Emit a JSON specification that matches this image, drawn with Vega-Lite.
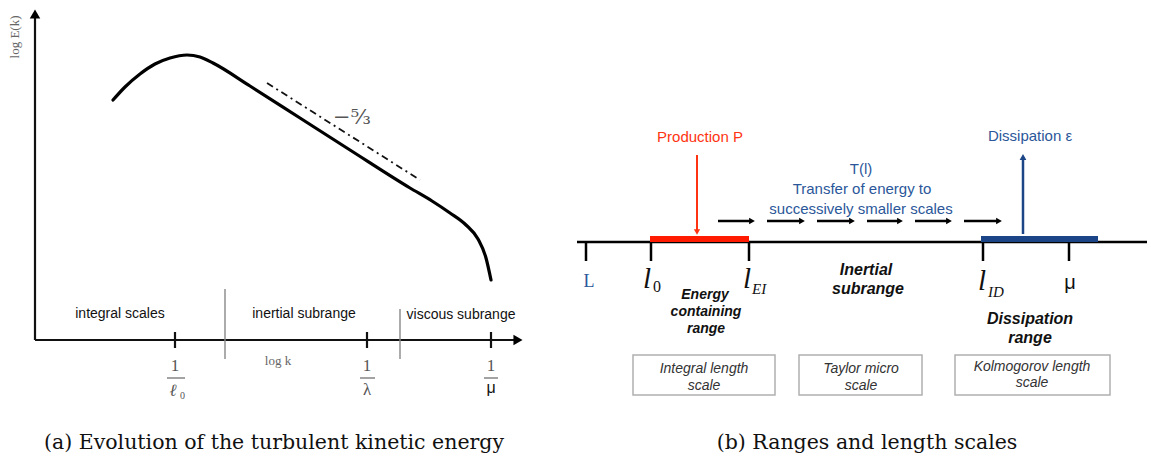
{
  "$schema": "https://vega.github.io/schema/vega-lite/v6.json",
  "width": 1151,
  "height": 461,
  "autosize": {"type": "fit", "contains": "padding"},
  "padding": 0,
  "background": "white",
  "config": {"view": {"stroke": null}},
  "datasets": {
    "seg": [
      {"g": "axisA", "x": 35, "y": 340, "x2": 35, "y2": 16},
      {"g": "axisA", "x": 35, "y": 340, "x2": 516, "y2": 340},
      {"g": "tickA", "x": 175, "y": 332, "x2": 175, "y2": 348},
      {"g": "tickA", "x": 367, "y": 332, "x2": 367, "y2": 348},
      {"g": "tickA", "x": 491, "y": 332, "x2": 491, "y2": 348},
      {"g": "sepA", "x": 225, "y": 289, "x2": 225, "y2": 359},
      {"g": "sepA", "x": 400, "y": 309, "x2": 400, "y2": 359},
      {"g": "slope", "x": 267, "y": 83, "x2": 420, "y2": 180},
      {"g": "frac", "x": 167, "y": 378, "x2": 185, "y2": 378},
      {"g": "frac", "x": 360, "y": 378, "x2": 375, "y2": 378},
      {"g": "frac", "x": 484, "y": 378, "x2": 498, "y2": 378},
      {"g": "lineB", "x": 577, "y": 242, "x2": 1147, "y2": 242},
      {"g": "tickB", "x": 586, "y": 242, "x2": 586, "y2": 261},
      {"g": "tickB", "x": 651, "y": 242, "x2": 651, "y2": 261},
      {"g": "tickB", "x": 749, "y": 242, "x2": 749, "y2": 261},
      {"g": "tickB", "x": 983, "y": 242, "x2": 983, "y2": 261},
      {"g": "tickB", "x": 1069, "y": 242, "x2": 1069, "y2": 261},
      {"g": "red", "x": 650, "y": 239, "x2": 749, "y2": 239},
      {"g": "redShaft", "x": 697, "y": 155, "x2": 697, "y2": 230},
      {"g": "blue", "x": 981, "y": 239, "x2": 1098, "y2": 239},
      {"g": "blueShaft", "x": 1023, "y": 234, "x2": 1023, "y2": 160},
      {"g": "flow", "x": 718, "y": 221, "x2": 750, "y2": 221},
      {"g": "flow", "x": 767, "y": 221, "x2": 800, "y2": 221},
      {"g": "flow", "x": 817, "y": 221, "x2": 850, "y2": 221},
      {"g": "flow", "x": 867, "y": 221, "x2": 898, "y2": 221},
      {"g": "flow", "x": 915, "y": 221, "x2": 947, "y2": 221},
      {"g": "flow", "x": 964, "y": 221, "x2": 997, "y2": 221}
    ],
    "curve": [
      {"x": 113, "y": 100}, {"x": 125, "y": 87}, {"x": 140, "y": 74},
      {"x": 155, "y": 64}, {"x": 170, "y": 58}, {"x": 187, "y": 55},
      {"x": 200, "y": 57}, {"x": 213, "y": 63}, {"x": 250, "y": 86},
      {"x": 300, "y": 118}, {"x": 350, "y": 150}, {"x": 410, "y": 188},
      {"x": 432, "y": 201}, {"x": 450, "y": 213}, {"x": 466, "y": 225},
      {"x": 478, "y": 239}, {"x": 486, "y": 258}, {"x": 491, "y": 280}
    ],
    "heads": [
      {"g": "up", "x": 35, "y": 14},
      {"g": "right", "x": 518, "y": 340},
      {"g": "flowHead", "x": 752, "y": 221},
      {"g": "flowHead", "x": 802, "y": 221},
      {"g": "flowHead", "x": 852, "y": 221},
      {"g": "flowHead", "x": 900, "y": 221},
      {"g": "flowHead", "x": 949, "y": 221},
      {"g": "flowHead", "x": 999, "y": 221},
      {"g": "redHead", "x": 697, "y": 232},
      {"g": "blueHead", "x": 1023, "y": 157}
    ],
    "boxes": [
      {"x": 633, "y": 355, "x2": 775, "y2": 395},
      {"x": 799, "y": 355, "x2": 922, "y2": 395},
      {"x": 955, "y": 355, "x2": 1110, "y2": 395}
    ],
    "labels": [
      {"g": "sansA", "x": 120, "y": 314, "t": "integral scales"},
      {"g": "sansA", "x": 304, "y": 314, "t": "inertial subrange"},
      {"g": "sansA", "x": 461, "y": 315, "t": "viscous subrange"},
      {"g": "serifA", "x": 175, "y": 366, "t": "1"},
      {"g": "serifA", "x": 367, "y": 366, "t": "1"},
      {"g": "serifA", "x": 491, "y": 366, "t": "1"},
      {"g": "serifA", "x": 367, "y": 390, "t": "λ"},
      {"g": "ellA", "x": 173, "y": 391, "t": "ℓ"},
      {"g": "subA", "x": 180, "y": 396, "t": "0"},
      {"g": "logk", "x": 278, "y": 361, "t": "log k"},
      {"g": "muA", "x": 491, "y": 388, "t": "μ"},
      {"g": "logE", "x": 15, "y": 37, "t": "log E(k)"},
      {"g": "slopeT", "x": 352, "y": 118, "t": "−⁵⁄₃"},
      {"g": "cap", "x": 274, "y": 443, "t": "(a)  Evolution of the turbulent kinetic energy"},
      {"g": "cap", "x": 867, "y": 443, "t": "(b)  Ranges and length scales"},
      {"g": "prod", "x": 700, "y": 137, "t": "Production P"},
      {"g": "blueT", "x": 1030, "y": 136, "t": "Dissipation ε"},
      {"g": "blueT", "x": 861, "y": 169, "t": "T(l)"},
      {"g": "blueT", "x": 862, "y": 189, "t": "Transfer of energy to"},
      {"g": "blueT", "x": 861, "y": 209, "t": "successively smaller scales"},
      {"g": "Lt", "x": 589, "y": 282, "t": "L"},
      {"g": "ell", "x": 647, "y": 279, "t": "l"},
      {"g": "ell", "x": 747, "y": 279, "t": "l"},
      {"g": "ell", "x": 982, "y": 281, "t": "l"},
      {"g": "sub0", "x": 653, "y": 287, "t": "0"},
      {"g": "subI", "x": 752, "y": 289, "t": "EI"},
      {"g": "subI", "x": 988, "y": 292, "t": "ID"},
      {"g": "muB", "x": 1070, "y": 283, "t": "μ"},
      {"g": "bi14", "x": 705, "y": 295, "t": "Energy"},
      {"g": "bi14", "x": 706, "y": 312, "t": "containing"},
      {"g": "bi14", "x": 706, "y": 329, "t": "range"},
      {"g": "bi16", "x": 866, "y": 270, "t": "Inertial"},
      {"g": "bi16", "x": 868, "y": 289, "t": "subrange"},
      {"g": "bi16", "x": 1030, "y": 319, "t": "Dissipation"},
      {"g": "bi16", "x": 1030, "y": 338, "t": "range"},
      {"g": "boxT", "x": 704, "y": 369, "t": "Integral length"},
      {"g": "boxT", "x": 704, "y": 386, "t": "scale"},
      {"g": "boxT", "x": 861, "y": 369, "t": "Taylor micro"},
      {"g": "boxT", "x": 861, "y": 386, "t": "scale"},
      {"g": "boxT", "x": 1032, "y": 367, "t": "Kolmogorov length"},
      {"g": "boxT", "x": 1032, "y": 383, "t": "scale"}
    ]
  },
  "encoding": {
    "x": {"field": "x", "type": "quantitative", "scale": {"domain": [0, 1151], "nice": false, "zero": false}, "axis": null},
    "y": {"field": "y", "type": "quantitative", "scale": {"domain": [0, 461], "nice": false, "zero": false, "reverse": true}, "axis": null}
  },
  "layer": [
    {"data": {"name": "seg"}, "transform": [{"filter": "datum.g === 'axisA' || datum.g === 'tickA'"}],
     "mark": {"type": "rule", "color": "#111", "strokeWidth": 2.2},
     "encoding": {"x2": {"field": "x2"}, "y2": {"field": "y2"}}},
    {"data": {"name": "seg"}, "transform": [{"filter": "datum.g === 'sepA'"}],
     "mark": {"type": "rule", "color": "#888", "strokeWidth": 1.4},
     "encoding": {"x2": {"field": "x2"}, "y2": {"field": "y2"}}},
    {"data": {"name": "seg"}, "transform": [{"filter": "datum.g === 'slope'"}],
     "mark": {"type": "rule", "color": "#111", "strokeWidth": 1.8, "strokeDash": [7, 4, 2, 4]},
     "encoding": {"x2": {"field": "x2"}, "y2": {"field": "y2"}}},
    {"data": {"name": "seg"}, "transform": [{"filter": "datum.g === 'frac'"}],
     "mark": {"type": "rule", "color": "#666", "strokeWidth": 1.2},
     "encoding": {"x2": {"field": "x2"}, "y2": {"field": "y2"}}},
    {"data": {"name": "curve"},
     "mark": {"type": "line", "color": "#000", "strokeWidth": 3.2, "interpolate": "monotone", "strokeCap": "round"},
     "encoding": {"order": {"field": "x", "type": "quantitative"}}},
    {"data": {"name": "seg"}, "transform": [{"filter": "datum.g === 'lineB' || datum.g === 'tickB' || datum.g === 'flow'"}],
     "mark": {"type": "rule", "color": "#000", "strokeWidth": 2.5},
     "encoding": {"x2": {"field": "x2"}, "y2": {"field": "y2"}}},
    {"data": {"name": "seg"}, "transform": [{"filter": "datum.g === 'red'"}],
     "mark": {"type": "rule", "color": "#ff1a00", "strokeWidth": 6},
     "encoding": {"x2": {"field": "x2"}, "y2": {"field": "y2"}}},
    {"data": {"name": "seg"}, "transform": [{"filter": "datum.g === 'redShaft'"}],
     "mark": {"type": "rule", "color": "#ff3311", "strokeWidth": 2},
     "encoding": {"x2": {"field": "x2"}, "y2": {"field": "y2"}}},
    {"data": {"name": "seg"}, "transform": [{"filter": "datum.g === 'blue'"}],
     "mark": {"type": "rule", "color": "#1c4587", "strokeWidth": 6},
     "encoding": {"x2": {"field": "x2"}, "y2": {"field": "y2"}}},
    {"data": {"name": "seg"}, "transform": [{"filter": "datum.g === 'blueShaft'"}],
     "mark": {"type": "rule", "color": "#1c4587", "strokeWidth": 2.5},
     "encoding": {"x2": {"field": "x2"}, "y2": {"field": "y2"}}},
    {"data": {"name": "heads"}, "transform": [{"filter": "datum.g === 'up'"}],
     "mark": {"type": "point", "shape": "triangle-up", "filled": true, "color": "#000", "size": 110, "opacity": 1}},
    {"data": {"name": "heads"}, "transform": [{"filter": "datum.g === 'right'"}],
     "mark": {"type": "point", "shape": "triangle-right", "filled": true, "color": "#000", "size": 110, "opacity": 1}},
    {"data": {"name": "heads"}, "transform": [{"filter": "datum.g === 'flowHead'"}],
     "mark": {"type": "point", "shape": "triangle-right", "filled": true, "color": "#000", "size": 45, "opacity": 1}},
    {"data": {"name": "heads"}, "transform": [{"filter": "datum.g === 'redHead'"}],
     "mark": {"type": "point", "shape": "triangle-down", "filled": true, "color": "#ff3311", "size": 40, "opacity": 1}},
    {"data": {"name": "heads"}, "transform": [{"filter": "datum.g === 'blueHead'"}],
     "mark": {"type": "point", "shape": "triangle-up", "filled": true, "color": "#1c4587", "size": 45, "opacity": 1}},
    {"data": {"name": "boxes"},
     "mark": {"type": "rect", "fill": "white", "stroke": "#b0b0b0", "strokeWidth": 1.5},
     "encoding": {"x2": {"field": "x2"}, "y2": {"field": "y2"}}},
    {"data": {"name": "labels"}, "transform": [{"filter": "datum.g === 'sansA'"}],
     "mark": {"type": "text", "font": "Liberation Sans", "fontSize": 14, "color": "#111", "align": "center", "baseline": "middle"},
     "encoding": {"text": {"field": "t"}}},
    {"data": {"name": "labels"}, "transform": [{"filter": "datum.g === 'serifA'"}],
     "mark": {"type": "text", "font": "Liberation Serif", "fontSize": 17, "color": "#555", "align": "center", "baseline": "middle"},
     "encoding": {"text": {"field": "t"}}},
    {"data": {"name": "labels"}, "transform": [{"filter": "datum.g === 'ellA'"}],
     "mark": {"type": "text", "font": "DejaVu Serif", "fontSize": 17, "fontStyle": "italic", "color": "#555", "align": "center", "baseline": "middle"},
     "encoding": {"text": {"field": "t"}}},
    {"data": {"name": "labels"}, "transform": [{"filter": "datum.g === 'subA'"}],
     "mark": {"type": "text", "font": "Liberation Serif", "fontSize": 10, "color": "#555", "align": "left", "baseline": "middle"},
     "encoding": {"text": {"field": "t"}}},
    {"data": {"name": "labels"}, "transform": [{"filter": "datum.g === 'logk'"}],
     "mark": {"type": "text", "font": "Liberation Serif", "fontSize": 13, "color": "#666", "align": "center", "baseline": "middle"},
     "encoding": {"text": {"field": "t"}}},
    {"data": {"name": "labels"}, "transform": [{"filter": "datum.g === 'muA'"}],
     "mark": {"type": "text", "font": "Liberation Sans", "fontSize": 16, "color": "#111", "align": "center", "baseline": "middle"},
     "encoding": {"text": {"field": "t"}}},
    {"data": {"name": "labels"}, "transform": [{"filter": "datum.g === 'logE'"}],
     "mark": {"type": "text", "font": "Liberation Serif", "fontSize": 13, "color": "#666", "align": "center", "baseline": "middle", "angle": 270},
     "encoding": {"text": {"field": "t"}}},
    {"data": {"name": "labels"}, "transform": [{"filter": "datum.g === 'slopeT'"}],
     "mark": {"type": "text", "font": "DejaVu Serif", "fontSize": 21, "color": "#555", "align": "center", "baseline": "middle"},
     "encoding": {"text": {"field": "t"}}},
    {"data": {"name": "labels"}, "transform": [{"filter": "datum.g === 'cap'"}],
     "mark": {"type": "text", "font": "DejaVu Serif", "fontSize": 20.5, "color": "#111", "align": "center", "baseline": "middle"},
     "encoding": {"text": {"field": "t"}}},
    {"data": {"name": "labels"}, "transform": [{"filter": "datum.g === 'prod'"}],
     "mark": {"type": "text", "font": "Liberation Sans", "fontSize": 15, "color": "#ff3311", "align": "center", "baseline": "middle"},
     "encoding": {"text": {"field": "t"}}},
    {"data": {"name": "labels"}, "transform": [{"filter": "datum.g === 'blueT'"}],
     "mark": {"type": "text", "font": "Liberation Sans", "fontSize": 15, "color": "#2b579a", "align": "center", "baseline": "middle"},
     "encoding": {"text": {"field": "t"}}},
    {"data": {"name": "labels"}, "transform": [{"filter": "datum.g === 'Lt'"}],
     "mark": {"type": "text", "font": "Liberation Serif", "fontSize": 18, "color": "#2b579a", "align": "center", "baseline": "middle"},
     "encoding": {"text": {"field": "t"}}},
    {"data": {"name": "labels"}, "transform": [{"filter": "datum.g === 'ell'"}],
     "mark": {"type": "text", "font": "Liberation Serif", "fontSize": 29, "fontStyle": "italic", "color": "#111", "align": "center", "baseline": "middle"},
     "encoding": {"text": {"field": "t"}}},
    {"data": {"name": "labels"}, "transform": [{"filter": "datum.g === 'sub0'"}],
     "mark": {"type": "text", "font": "Liberation Serif", "fontSize": 16, "color": "#111", "align": "left", "baseline": "middle"},
     "encoding": {"text": {"field": "t"}}},
    {"data": {"name": "labels"}, "transform": [{"filter": "datum.g === 'subI'"}],
     "mark": {"type": "text", "font": "Liberation Serif", "fontSize": 15, "fontStyle": "italic", "color": "#111", "align": "left", "baseline": "middle"},
     "encoding": {"text": {"field": "t"}}},
    {"data": {"name": "labels"}, "transform": [{"filter": "datum.g === 'muB'"}],
     "mark": {"type": "text", "font": "Liberation Sans", "fontSize": 20, "color": "#111", "align": "center", "baseline": "middle"},
     "encoding": {"text": {"field": "t"}}},
    {"data": {"name": "labels"}, "transform": [{"filter": "datum.g === 'bi14'"}],
     "mark": {"type": "text", "font": "Liberation Sans", "fontSize": 14, "fontStyle": "italic", "fontWeight": "bold", "color": "#111", "align": "center", "baseline": "middle"},
     "encoding": {"text": {"field": "t"}}},
    {"data": {"name": "labels"}, "transform": [{"filter": "datum.g === 'bi16'"}],
     "mark": {"type": "text", "font": "Liberation Sans", "fontSize": 16, "fontStyle": "italic", "fontWeight": "bold", "color": "#111", "align": "center", "baseline": "middle"},
     "encoding": {"text": {"field": "t"}}},
    {"data": {"name": "labels"}, "transform": [{"filter": "datum.g === 'boxT'"}],
     "mark": {"type": "text", "font": "Liberation Sans", "fontSize": 14, "fontStyle": "italic", "color": "#333", "align": "center", "baseline": "middle"},
     "encoding": {"text": {"field": "t"}}}
  ]
}
